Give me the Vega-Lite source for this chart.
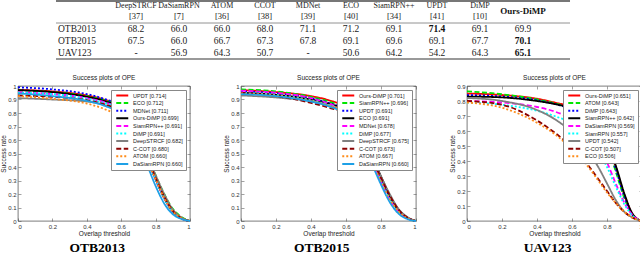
{
"$schema":"https://vega.github.io/schema/vega-lite/v6.json",
"padding":0,
"background":"white",
"spacing":14,
"datasets":{
"t":[
{"r":"OTB2013","c":"DeepSTRCF","v":68.2},{"r":"OTB2015","c":"DeepSTRCF","v":67.5},{"r":"UAV123","c":"DeepSTRCF","v":null},
{"r":"OTB2013","c":"DaSiamRPN","v":66.0},{"r":"OTB2015","c":"DaSiamRPN","v":66.0},{"r":"UAV123","c":"DaSiamRPN","v":56.9},
{"r":"OTB2013","c":"ATOM","v":66.0},{"r":"OTB2015","c":"ATOM","v":66.7},{"r":"UAV123","c":"ATOM","v":64.3},
{"r":"OTB2013","c":"CCOT","v":68.0},{"r":"OTB2015","c":"CCOT","v":67.3},{"r":"UAV123","c":"CCOT","v":50.7},
{"r":"OTB2013","c":"MDNet","v":71.1},{"r":"OTB2015","c":"MDNet","v":67.8},{"r":"UAV123","c":"MDNet","v":null},
{"r":"OTB2013","c":"ECO","v":71.2},{"r":"OTB2015","c":"ECO","v":69.1},{"r":"UAV123","c":"ECO","v":50.6},
{"r":"OTB2013","c":"SiamRPN++","v":69.1},{"r":"OTB2015","c":"SiamRPN++","v":69.6},{"r":"UAV123","c":"SiamRPN++","v":64.2},
{"r":"OTB2013","c":"UPDT","v":71.4},{"r":"OTB2015","c":"UPDT","v":69.1},{"r":"UAV123","c":"UPDT","v":54.2},
{"r":"OTB2013","c":"DiMP","v":69.1},{"r":"OTB2015","c":"DiMP","v":67.7},{"r":"UAV123","c":"DiMP","v":64.3},
{"r":"OTB2013","c":"Ours-DiMP","v":69.9},{"r":"OTB2015","c":"Ours-DiMP","v":70.1},{"r":"UAV123","c":"Ours-DiMP","v":65.1}
],
"h":[
{"c":"DeepSTRCF","a":"DeepSTRCF","b":"[37]"},{"c":"DaSiamRPN","a":"DaSiamRPN","b":"[7]"},{"c":"ATOM","a":"ATOM","b":"[36]"},
{"c":"CCOT","a":"CCOT","b":"[38]"},{"c":"MDNet","a":"MDNet","b":"[39]"},{"c":"ECO","a":"ECO","b":"[40]"},
{"c":"SiamRPN++","a":"SiamRPN++","b":"[34]"},{"c":"UPDT","a":"UPDT","b":"[41]"},{"c":"DiMP","a":"DiMP","b":"[10]"}
],
"c1":[
{"s":"UPDT [0.714]","x":0,"y":0.97},{"s":"UPDT [0.714]","x":0.2,"y":0.96},{"s":"UPDT [0.714]","x":0.4,"y":0.93},{"s":"UPDT [0.714]","x":0.5,"y":0.9},{"s":"UPDT [0.714]","x":0.6,"y":0.845},{"s":"UPDT [0.714]","x":0.65,"y":0.78},{"s":"UPDT [0.714]","x":0.7,"y":0.66},{"s":"UPDT [0.714]","x":0.75,"y":0.48},{"s":"UPDT [0.714]","x":0.8,"y":0.32},{"s":"UPDT [0.714]","x":0.85,"y":0.18},{"s":"UPDT [0.714]","x":0.9,"y":0.08},{"s":"UPDT [0.714]","x":0.95,"y":0.025},{"s":"UPDT [0.714]","x":1,"y":0},
{"s":"ECO [0.712]","x":0,"y":0.965},{"s":"ECO [0.712]","x":0.2,"y":0.955},{"s":"ECO [0.712]","x":0.4,"y":0.925},{"s":"ECO [0.712]","x":0.5,"y":0.895},{"s":"ECO [0.712]","x":0.6,"y":0.845},{"s":"ECO [0.712]","x":0.65,"y":0.785},{"s":"ECO [0.712]","x":0.7,"y":0.67},{"s":"ECO [0.712]","x":0.75,"y":0.5},{"s":"ECO [0.712]","x":0.8,"y":0.34},{"s":"ECO [0.712]","x":0.85,"y":0.2},{"s":"ECO [0.712]","x":0.9,"y":0.09},{"s":"ECO [0.712]","x":0.95,"y":0.03},{"s":"ECO [0.712]","x":1,"y":0},
{"s":"MDNet [0.711]","x":0,"y":0.99},{"s":"MDNet [0.711]","x":0.2,"y":0.975},{"s":"MDNet [0.711]","x":0.4,"y":0.94},{"s":"MDNet [0.711]","x":0.5,"y":0.905},{"s":"MDNet [0.711]","x":0.6,"y":0.85},{"s":"MDNet [0.711]","x":0.65,"y":0.775},{"s":"MDNet [0.711]","x":0.7,"y":0.65},{"s":"MDNet [0.711]","x":0.75,"y":0.47},{"s":"MDNet [0.711]","x":0.8,"y":0.31},{"s":"MDNet [0.711]","x":0.85,"y":0.17},{"s":"MDNet [0.711]","x":0.9,"y":0.07},{"s":"MDNet [0.711]","x":0.95,"y":0.02},{"s":"MDNet [0.711]","x":1,"y":0},
{"s":"Ours-DiMP [0.699]","x":0,"y":0.97},{"s":"Ours-DiMP [0.699]","x":0.2,"y":0.955},{"s":"Ours-DiMP [0.699]","x":0.4,"y":0.92},{"s":"Ours-DiMP [0.699]","x":0.5,"y":0.89},{"s":"Ours-DiMP [0.699]","x":0.6,"y":0.835},{"s":"Ours-DiMP [0.699]","x":0.65,"y":0.77},{"s":"Ours-DiMP [0.699]","x":0.7,"y":0.65},{"s":"Ours-DiMP [0.699]","x":0.75,"y":0.47},{"s":"Ours-DiMP [0.699]","x":0.8,"y":0.31},{"s":"Ours-DiMP [0.699]","x":0.85,"y":0.17},{"s":"Ours-DiMP [0.699]","x":0.9,"y":0.07},{"s":"Ours-DiMP [0.699]","x":0.95,"y":0.02},{"s":"Ours-DiMP [0.699]","x":1,"y":0},
{"s":"SiamRPN++ [0.691]","x":0,"y":0.955},{"s":"SiamRPN++ [0.691]","x":0.2,"y":0.94},{"s":"SiamRPN++ [0.691]","x":0.4,"y":0.91},{"s":"SiamRPN++ [0.691]","x":0.5,"y":0.88},{"s":"SiamRPN++ [0.691]","x":0.6,"y":0.825},{"s":"SiamRPN++ [0.691]","x":0.65,"y":0.76},{"s":"SiamRPN++ [0.691]","x":0.7,"y":0.64},{"s":"SiamRPN++ [0.691]","x":0.75,"y":0.46},{"s":"SiamRPN++ [0.691]","x":0.8,"y":0.31},{"s":"SiamRPN++ [0.691]","x":0.85,"y":0.17},{"s":"SiamRPN++ [0.691]","x":0.9,"y":0.07},{"s":"SiamRPN++ [0.691]","x":0.95,"y":0.02},{"s":"SiamRPN++ [0.691]","x":1,"y":0},
{"s":"DiMP [0.691]","x":0,"y":0.95},{"s":"DiMP [0.691]","x":0.2,"y":0.94},{"s":"DiMP [0.691]","x":0.4,"y":0.905},{"s":"DiMP [0.691]","x":0.5,"y":0.875},{"s":"DiMP [0.691]","x":0.6,"y":0.82},{"s":"DiMP [0.691]","x":0.65,"y":0.76},{"s":"DiMP [0.691]","x":0.7,"y":0.64},{"s":"DiMP [0.691]","x":0.75,"y":0.46},{"s":"DiMP [0.691]","x":0.8,"y":0.31},{"s":"DiMP [0.691]","x":0.85,"y":0.17},{"s":"DiMP [0.691]","x":0.9,"y":0.07},{"s":"DiMP [0.691]","x":0.95,"y":0.02},{"s":"DiMP [0.691]","x":1,"y":0},
{"s":"DeepSTRCF [0.682]","x":0,"y":0.91},{"s":"DeepSTRCF [0.682]","x":0.2,"y":0.9},{"s":"DeepSTRCF [0.682]","x":0.4,"y":0.885},{"s":"DeepSTRCF [0.682]","x":0.5,"y":0.86},{"s":"DeepSTRCF [0.682]","x":0.6,"y":0.805},{"s":"DeepSTRCF [0.682]","x":0.65,"y":0.745},{"s":"DeepSTRCF [0.682]","x":0.7,"y":0.65},{"s":"DeepSTRCF [0.682]","x":0.75,"y":0.49},{"s":"DeepSTRCF [0.682]","x":0.8,"y":0.34},{"s":"DeepSTRCF [0.682]","x":0.85,"y":0.2},{"s":"DeepSTRCF [0.682]","x":0.9,"y":0.085},{"s":"DeepSTRCF [0.682]","x":0.95,"y":0.025},{"s":"DeepSTRCF [0.682]","x":1,"y":0},
{"s":"C-COT [0.680]","x":0,"y":0.93},{"s":"C-COT [0.680]","x":0.2,"y":0.92},{"s":"C-COT [0.680]","x":0.4,"y":0.895},{"s":"C-COT [0.680]","x":0.5,"y":0.865},{"s":"C-COT [0.680]","x":0.6,"y":0.81},{"s":"C-COT [0.680]","x":0.65,"y":0.745},{"s":"C-COT [0.680]","x":0.7,"y":0.635},{"s":"C-COT [0.680]","x":0.75,"y":0.47},{"s":"C-COT [0.680]","x":0.8,"y":0.32},{"s":"C-COT [0.680]","x":0.85,"y":0.18},{"s":"C-COT [0.680]","x":0.9,"y":0.075},{"s":"C-COT [0.680]","x":0.95,"y":0.02},{"s":"C-COT [0.680]","x":1,"y":0},
{"s":"ATOM [0.660]","x":0,"y":0.925},{"s":"ATOM [0.660]","x":0.2,"y":0.905},{"s":"ATOM [0.660]","x":0.4,"y":0.87},{"s":"ATOM [0.660]","x":0.5,"y":0.83},{"s":"ATOM [0.660]","x":0.6,"y":0.765},{"s":"ATOM [0.660]","x":0.65,"y":0.7},{"s":"ATOM [0.660]","x":0.7,"y":0.6},{"s":"ATOM [0.660]","x":0.75,"y":0.45},{"s":"ATOM [0.660]","x":0.8,"y":0.31},{"s":"ATOM [0.660]","x":0.85,"y":0.17},{"s":"ATOM [0.660]","x":0.9,"y":0.07},{"s":"ATOM [0.660]","x":0.95,"y":0.02},{"s":"ATOM [0.660]","x":1,"y":0},
{"s":"DaSiamRPN [0.660]","x":0,"y":0.945},{"s":"DaSiamRPN [0.660]","x":0.2,"y":0.925},{"s":"DaSiamRPN [0.660]","x":0.4,"y":0.89},{"s":"DaSiamRPN [0.660]","x":0.5,"y":0.855},{"s":"DaSiamRPN [0.660]","x":0.6,"y":0.79},{"s":"DaSiamRPN [0.660]","x":0.65,"y":0.72},{"s":"DaSiamRPN [0.660]","x":0.7,"y":0.59},{"s":"DaSiamRPN [0.660]","x":0.75,"y":0.42},{"s":"DaSiamRPN [0.660]","x":0.8,"y":0.26},{"s":"DaSiamRPN [0.660]","x":0.85,"y":0.13},{"s":"DaSiamRPN [0.660]","x":0.9,"y":0.05},{"s":"DaSiamRPN [0.660]","x":0.95,"y":0.015},{"s":"DaSiamRPN [0.660]","x":1,"y":0}
],
"c2":[
{"s":"Ours-DiMP [0.701]","x":0,"y":0.97},{"s":"Ours-DiMP [0.701]","x":0.2,"y":0.955},{"s":"Ours-DiMP [0.701]","x":0.4,"y":0.925},{"s":"Ours-DiMP [0.701]","x":0.5,"y":0.895},{"s":"Ours-DiMP [0.701]","x":0.6,"y":0.84},{"s":"Ours-DiMP [0.701]","x":0.65,"y":0.77},{"s":"Ours-DiMP [0.701]","x":0.7,"y":0.65},{"s":"Ours-DiMP [0.701]","x":0.75,"y":0.48},{"s":"Ours-DiMP [0.701]","x":0.8,"y":0.32},{"s":"Ours-DiMP [0.701]","x":0.85,"y":0.18},{"s":"Ours-DiMP [0.701]","x":0.9,"y":0.08},{"s":"Ours-DiMP [0.701]","x":0.95,"y":0.025},{"s":"Ours-DiMP [0.701]","x":1,"y":0},
{"s":"SiamRPN++ [0.696]","x":0,"y":0.975},{"s":"SiamRPN++ [0.696]","x":0.2,"y":0.96},{"s":"SiamRPN++ [0.696]","x":0.4,"y":0.92},{"s":"SiamRPN++ [0.696]","x":0.5,"y":0.885},{"s":"SiamRPN++ [0.696]","x":0.6,"y":0.83},{"s":"SiamRPN++ [0.696]","x":0.65,"y":0.76},{"s":"SiamRPN++ [0.696]","x":0.7,"y":0.64},{"s":"SiamRPN++ [0.696]","x":0.75,"y":0.47},{"s":"SiamRPN++ [0.696]","x":0.8,"y":0.31},{"s":"SiamRPN++ [0.696]","x":0.85,"y":0.17},{"s":"SiamRPN++ [0.696]","x":0.9,"y":0.075},{"s":"SiamRPN++ [0.696]","x":0.95,"y":0.02},{"s":"SiamRPN++ [0.696]","x":1,"y":0},
{"s":"UPDT [0.691]","x":0,"y":0.96},{"s":"UPDT [0.691]","x":0.2,"y":0.945},{"s":"UPDT [0.691]","x":0.4,"y":0.91},{"s":"UPDT [0.691]","x":0.5,"y":0.875},{"s":"UPDT [0.691]","x":0.6,"y":0.82},{"s":"UPDT [0.691]","x":0.65,"y":0.76},{"s":"UPDT [0.691]","x":0.7,"y":0.64},{"s":"UPDT [0.691]","x":0.75,"y":0.47},{"s":"UPDT [0.691]","x":0.8,"y":0.32},{"s":"UPDT [0.691]","x":0.85,"y":0.18},{"s":"UPDT [0.691]","x":0.9,"y":0.08},{"s":"UPDT [0.691]","x":0.95,"y":0.025},{"s":"UPDT [0.691]","x":1,"y":0},
{"s":"ECO [0.691]","x":0,"y":0.95},{"s":"ECO [0.691]","x":0.2,"y":0.935},{"s":"ECO [0.691]","x":0.4,"y":0.9},{"s":"ECO [0.691]","x":0.5,"y":0.87},{"s":"ECO [0.691]","x":0.6,"y":0.82},{"s":"ECO [0.691]","x":0.65,"y":0.76},{"s":"ECO [0.691]","x":0.7,"y":0.65},{"s":"ECO [0.691]","x":0.75,"y":0.48},{"s":"ECO [0.691]","x":0.8,"y":0.33},{"s":"ECO [0.691]","x":0.85,"y":0.19},{"s":"ECO [0.691]","x":0.9,"y":0.085},{"s":"ECO [0.691]","x":0.95,"y":0.025},{"s":"ECO [0.691]","x":1,"y":0},
{"s":"MDNet [0.678]","x":0,"y":0.965},{"s":"MDNet [0.678]","x":0.2,"y":0.95},{"s":"MDNet [0.678]","x":0.4,"y":0.91},{"s":"MDNet [0.678]","x":0.5,"y":0.87},{"s":"MDNet [0.678]","x":0.6,"y":0.81},{"s":"MDNet [0.678]","x":0.65,"y":0.74},{"s":"MDNet [0.678]","x":0.7,"y":0.62},{"s":"MDNet [0.678]","x":0.75,"y":0.45},{"s":"MDNet [0.678]","x":0.8,"y":0.29},{"s":"MDNet [0.678]","x":0.85,"y":0.16},{"s":"MDNet [0.678]","x":0.9,"y":0.07},{"s":"MDNet [0.678]","x":0.95,"y":0.02},{"s":"MDNet [0.678]","x":1,"y":0},
{"s":"DiMP [0.677]","x":0,"y":0.95},{"s":"DiMP [0.677]","x":0.2,"y":0.935},{"s":"DiMP [0.677]","x":0.4,"y":0.895},{"s":"DiMP [0.677]","x":0.5,"y":0.86},{"s":"DiMP [0.677]","x":0.6,"y":0.8},{"s":"DiMP [0.677]","x":0.65,"y":0.74},{"s":"DiMP [0.677]","x":0.7,"y":0.62},{"s":"DiMP [0.677]","x":0.75,"y":0.45},{"s":"DiMP [0.677]","x":0.8,"y":0.3},{"s":"DiMP [0.677]","x":0.85,"y":0.17},{"s":"DiMP [0.677]","x":0.9,"y":0.07},{"s":"DiMP [0.677]","x":0.95,"y":0.02},{"s":"DiMP [0.677]","x":1,"y":0},
{"s":"DeepSTRCF [0.675]","x":0,"y":0.93},{"s":"DeepSTRCF [0.675]","x":0.2,"y":0.915},{"s":"DeepSTRCF [0.675]","x":0.4,"y":0.885},{"s":"DeepSTRCF [0.675]","x":0.5,"y":0.855},{"s":"DeepSTRCF [0.675]","x":0.6,"y":0.8},{"s":"DeepSTRCF [0.675]","x":0.65,"y":0.74},{"s":"DeepSTRCF [0.675]","x":0.7,"y":0.63},{"s":"DeepSTRCF [0.675]","x":0.75,"y":0.47},{"s":"DeepSTRCF [0.675]","x":0.8,"y":0.33},{"s":"DeepSTRCF [0.675]","x":0.85,"y":0.2},{"s":"DeepSTRCF [0.675]","x":0.9,"y":0.09},{"s":"DeepSTRCF [0.675]","x":0.95,"y":0.03},{"s":"DeepSTRCF [0.675]","x":1,"y":0},
{"s":"C-COT [0.673]","x":0,"y":0.95},{"s":"C-COT [0.673]","x":0.2,"y":0.925},{"s":"C-COT [0.673]","x":0.4,"y":0.875},{"s":"C-COT [0.673]","x":0.5,"y":0.84},{"s":"C-COT [0.673]","x":0.6,"y":0.79},{"s":"C-COT [0.673]","x":0.65,"y":0.73},{"s":"C-COT [0.673]","x":0.7,"y":0.62},{"s":"C-COT [0.673]","x":0.75,"y":0.46},{"s":"C-COT [0.673]","x":0.8,"y":0.32},{"s":"C-COT [0.673]","x":0.85,"y":0.19},{"s":"C-COT [0.673]","x":0.9,"y":0.085},{"s":"C-COT [0.673]","x":0.95,"y":0.025},{"s":"C-COT [0.673]","x":1,"y":0},
{"s":"ATOM [0.667]","x":0,"y":0.945},{"s":"ATOM [0.667]","x":0.2,"y":0.93},{"s":"ATOM [0.667]","x":0.4,"y":0.89},{"s":"ATOM [0.667]","x":0.5,"y":0.855},{"s":"ATOM [0.667]","x":0.6,"y":0.8},{"s":"ATOM [0.667]","x":0.65,"y":0.73},{"s":"ATOM [0.667]","x":0.7,"y":0.61},{"s":"ATOM [0.667]","x":0.75,"y":0.44},{"s":"ATOM [0.667]","x":0.8,"y":0.29},{"s":"ATOM [0.667]","x":0.85,"y":0.16},{"s":"ATOM [0.667]","x":0.9,"y":0.07},{"s":"ATOM [0.667]","x":0.95,"y":0.02},{"s":"ATOM [0.667]","x":1,"y":0},
{"s":"DaSiamRPN [0.660]","x":0,"y":0.94},{"s":"DaSiamRPN [0.660]","x":0.2,"y":0.925},{"s":"DaSiamRPN [0.660]","x":0.4,"y":0.885},{"s":"DaSiamRPN [0.660]","x":0.5,"y":0.85},{"s":"DaSiamRPN [0.660]","x":0.6,"y":0.79},{"s":"DaSiamRPN [0.660]","x":0.65,"y":0.72},{"s":"DaSiamRPN [0.660]","x":0.7,"y":0.59},{"s":"DaSiamRPN [0.660]","x":0.75,"y":0.42},{"s":"DaSiamRPN [0.660]","x":0.8,"y":0.27},{"s":"DaSiamRPN [0.660]","x":0.85,"y":0.14},{"s":"DaSiamRPN [0.660]","x":0.9,"y":0.055},{"s":"DaSiamRPN [0.660]","x":0.95,"y":0.015},{"s":"DaSiamRPN [0.660]","x":1,"y":0}
],
"c3":[
{"s":"Ours-DiMP [0.651]","x":0,"y":0.85},{"s":"Ours-DiMP [0.651]","x":0.2,"y":0.84},{"s":"Ours-DiMP [0.651]","x":0.4,"y":0.815},{"s":"Ours-DiMP [0.651]","x":0.5,"y":0.79},{"s":"Ours-DiMP [0.651]","x":0.6,"y":0.76},{"s":"Ours-DiMP [0.651]","x":0.65,"y":0.735},{"s":"Ours-DiMP [0.651]","x":0.7,"y":0.69},{"s":"Ours-DiMP [0.651]","x":0.75,"y":0.62},{"s":"Ours-DiMP [0.651]","x":0.8,"y":0.52},{"s":"Ours-DiMP [0.651]","x":0.85,"y":0.36},{"s":"Ours-DiMP [0.651]","x":0.9,"y":0.17},{"s":"Ours-DiMP [0.651]","x":0.95,"y":0.04},{"s":"Ours-DiMP [0.651]","x":1,"y":0},
{"s":"ATOM [0.643]","x":0,"y":0.865},{"s":"ATOM [0.643]","x":0.2,"y":0.845},{"s":"ATOM [0.643]","x":0.4,"y":0.81},{"s":"ATOM [0.643]","x":0.5,"y":0.785},{"s":"ATOM [0.643]","x":0.6,"y":0.75},{"s":"ATOM [0.643]","x":0.65,"y":0.72},{"s":"ATOM [0.643]","x":0.7,"y":0.675},{"s":"ATOM [0.643]","x":0.75,"y":0.6},{"s":"ATOM [0.643]","x":0.8,"y":0.5},{"s":"ATOM [0.643]","x":0.85,"y":0.33},{"s":"ATOM [0.643]","x":0.9,"y":0.15},{"s":"ATOM [0.643]","x":0.95,"y":0.035},{"s":"ATOM [0.643]","x":1,"y":0},
{"s":"DiMP [0.643]","x":0,"y":0.84},{"s":"DiMP [0.643]","x":0.2,"y":0.83},{"s":"DiMP [0.643]","x":0.4,"y":0.805},{"s":"DiMP [0.643]","x":0.5,"y":0.78},{"s":"DiMP [0.643]","x":0.6,"y":0.745},{"s":"DiMP [0.643]","x":0.65,"y":0.72},{"s":"DiMP [0.643]","x":0.7,"y":0.675},{"s":"DiMP [0.643]","x":0.75,"y":0.605},{"s":"DiMP [0.643]","x":0.8,"y":0.505},{"s":"DiMP [0.643]","x":0.85,"y":0.345},{"s":"DiMP [0.643]","x":0.9,"y":0.16},{"s":"DiMP [0.643]","x":0.95,"y":0.035},{"s":"DiMP [0.643]","x":1,"y":0},
{"s":"SiamRPN++ [0.642]","x":0,"y":0.83},{"s":"SiamRPN++ [0.642]","x":0.2,"y":0.824},{"s":"SiamRPN++ [0.642]","x":0.4,"y":0.8},{"s":"SiamRPN++ [0.642]","x":0.5,"y":0.78},{"s":"SiamRPN++ [0.642]","x":0.6,"y":0.75},{"s":"SiamRPN++ [0.642]","x":0.65,"y":0.725},{"s":"SiamRPN++ [0.642]","x":0.7,"y":0.68},{"s":"SiamRPN++ [0.642]","x":0.75,"y":0.615},{"s":"SiamRPN++ [0.642]","x":0.8,"y":0.52},{"s":"SiamRPN++ [0.642]","x":0.85,"y":0.37},{"s":"SiamRPN++ [0.642]","x":0.9,"y":0.18},{"s":"SiamRPN++ [0.642]","x":0.95,"y":0.04},{"s":"SiamRPN++ [0.642]","x":1,"y":0},
{"s":"DaSiamRPN [0.569]","x":0,"y":0.8},{"s":"DaSiamRPN [0.569]","x":0.2,"y":0.79},{"s":"DaSiamRPN [0.569]","x":0.4,"y":0.76},{"s":"DaSiamRPN [0.569]","x":0.5,"y":0.73},{"s":"DaSiamRPN [0.569]","x":0.6,"y":0.68},{"s":"DaSiamRPN [0.569]","x":0.65,"y":0.64},{"s":"DaSiamRPN [0.569]","x":0.7,"y":0.58},{"s":"DaSiamRPN [0.569]","x":0.75,"y":0.5},{"s":"DaSiamRPN [0.569]","x":0.8,"y":0.39},{"s":"DaSiamRPN [0.569]","x":0.85,"y":0.25},{"s":"DaSiamRPN [0.569]","x":0.9,"y":0.12},{"s":"DaSiamRPN [0.569]","x":0.95,"y":0.035},{"s":"DaSiamRPN [0.569]","x":1,"y":0},
{"s":"SiamRPN [0.557]","x":0,"y":0.79},{"s":"SiamRPN [0.557]","x":0.2,"y":0.775},{"s":"SiamRPN [0.557]","x":0.4,"y":0.735},{"s":"SiamRPN [0.557]","x":0.5,"y":0.7},{"s":"SiamRPN [0.557]","x":0.6,"y":0.65},{"s":"SiamRPN [0.557]","x":0.65,"y":0.61},{"s":"SiamRPN [0.557]","x":0.7,"y":0.55},{"s":"SiamRPN [0.557]","x":0.75,"y":0.47},{"s":"SiamRPN [0.557]","x":0.8,"y":0.36},{"s":"SiamRPN [0.557]","x":0.85,"y":0.23},{"s":"SiamRPN [0.557]","x":0.9,"y":0.11},{"s":"SiamRPN [0.557]","x":0.95,"y":0.03},{"s":"SiamRPN [0.557]","x":1,"y":0},
{"s":"UPDT [0.542]","x":0,"y":0.82},{"s":"UPDT [0.542]","x":0.2,"y":0.8},{"s":"UPDT [0.542]","x":0.4,"y":0.74},{"s":"UPDT [0.542]","x":0.5,"y":0.68},{"s":"UPDT [0.542]","x":0.6,"y":0.59},{"s":"UPDT [0.542]","x":0.65,"y":0.53},{"s":"UPDT [0.542]","x":0.7,"y":0.45},{"s":"UPDT [0.542]","x":0.75,"y":0.36},{"s":"UPDT [0.542]","x":0.8,"y":0.25},{"s":"UPDT [0.542]","x":0.85,"y":0.14},{"s":"UPDT [0.542]","x":0.9,"y":0.06},{"s":"UPDT [0.542]","x":0.95,"y":0.02},{"s":"UPDT [0.542]","x":1,"y":0},
{"s":"C-COT [0.507]","x":0,"y":0.8},{"s":"C-COT [0.507]","x":0.2,"y":0.775},{"s":"C-COT [0.507]","x":0.4,"y":0.67},{"s":"C-COT [0.507]","x":0.5,"y":0.59},{"s":"C-COT [0.507]","x":0.6,"y":0.49},{"s":"C-COT [0.507]","x":0.65,"y":0.43},{"s":"C-COT [0.507]","x":0.7,"y":0.36},{"s":"C-COT [0.507]","x":0.75,"y":0.28},{"s":"C-COT [0.507]","x":0.8,"y":0.2},{"s":"C-COT [0.507]","x":0.85,"y":0.12},{"s":"C-COT [0.507]","x":0.9,"y":0.06},{"s":"C-COT [0.507]","x":0.95,"y":0.02},{"s":"C-COT [0.507]","x":1,"y":0},
{"s":"ECO [0.506]","x":0,"y":0.79},{"s":"ECO [0.506]","x":0.2,"y":0.755},{"s":"ECO [0.506]","x":0.4,"y":0.655},{"s":"ECO [0.506]","x":0.5,"y":0.58},{"s":"ECO [0.506]","x":0.6,"y":0.48},{"s":"ECO [0.506]","x":0.65,"y":0.42},{"s":"ECO [0.506]","x":0.7,"y":0.35},{"s":"ECO [0.506]","x":0.75,"y":0.27},{"s":"ECO [0.506]","x":0.8,"y":0.19},{"s":"ECO [0.506]","x":0.85,"y":0.12},{"s":"ECO [0.506]","x":0.9,"y":0.06},{"s":"ECO [0.506]","x":0.95,"y":0.02},{"s":"ECO [0.506]","x":1,"y":0}
]
},
"vconcat":[
{
"width":580,"height":58,
"view":{"stroke":null},
"layer":[
{"data":{"values":[{}]},"mark":{"type":"rule","strokeWidth":2,"color":"#777","yOffset":-4,"xOffset":6,"x2Offset":4},
 "encoding":{"x":{"datum":"lbl","type":"ordinal","scale":{"type":"point","domain":["lbl","gap","DeepSTRCF","DaSiamRPN","ATOM","CCOT","MDNet","ECO","SiamRPN++","UPDT","DiMP","Ours-DiMP","end"],"padding":0.744},"axis":null},"x2":{"datum":"end"},
 "y":{"datum":"h1","type":"ordinal","scale":{"type":"point","domain":["h1","h2","OTB2013","OTB2015","UAV123"],"padding":0.417},"axis":null}}},
{"data":{"values":[{}]},"mark":{"type":"rule","strokeWidth":0.8,"color":"#777","yOffset":-6,"xOffset":6,"x2Offset":4},
 "encoding":{"x":{"datum":"lbl","type":"ordinal"},"x2":{"datum":"end"},"y":{"datum":"OTB2013","type":"ordinal"}}},
{"data":{"values":[{}]},"mark":{"type":"rule","strokeWidth":1.5,"color":"#777","yOffset":6,"xOffset":6,"x2Offset":4},
 "encoding":{"x":{"datum":"lbl","type":"ordinal"},"x2":{"datum":"end"},"y":{"datum":"UAV123","type":"ordinal"}}},
{"data":{"name":"h"},"mark":{"type":"text","font":"Liberation Serif","fontSize":8,"color":"#222","yOffset":1},
 "encoding":{"x":{"field":"c","type":"ordinal"},"y":{"datum":"h1","type":"ordinal"},"text":{"field":"a"}}},
{"data":{"name":"h"},"mark":{"type":"text","font":"Liberation Serif","fontSize":8.5,"color":"#222","yOffset":-1},
 "encoding":{"x":{"field":"c","type":"ordinal"},"y":{"datum":"h2","type":"ordinal"},"text":{"field":"b"}}},
{"data":{"values":[{"c":"Ours-DiMP"}]},"mark":{"type":"text","font":"Liberation Serif","fontSize":9,"fontWeight":"bold","color":"#111","yOffset":6},
 "encoding":{"x":{"field":"c","type":"ordinal"},"y":{"datum":"h1","type":"ordinal"},"text":{"field":"c"}}},
{"data":{"values":[{"r":"OTB2013"},{"r":"OTB2015"},{"r":"UAV123"}]},"mark":{"type":"text","font":"Liberation Serif","fontSize":9.5,"color":"#222","align":"left","xOffset":8},
 "encoding":{"x":{"datum":"lbl","type":"ordinal"},"y":{"field":"r","type":"ordinal"},"text":{"field":"r"}}},
{"data":{"name":"t"},"transform":[{"filter":"datum.v != null"},{"joinaggregate":[{"op":"max","field":"v","as":"m"}],"groupby":["r"]},{"filter":"datum.v < datum.m"}],
 "mark":{"type":"text","font":"Liberation Serif","fontSize":9.5,"color":"#222"},
 "encoding":{"x":{"field":"c","type":"ordinal"},"y":{"field":"r","type":"ordinal"},"text":{"field":"v","type":"quantitative","format":".1f"}}},
{"data":{"name":"t"},"transform":[{"filter":"datum.v != null"},{"joinaggregate":[{"op":"max","field":"v","as":"m"}],"groupby":["r"]},{"filter":"datum.v == datum.m"}],
 "mark":{"type":"text","font":"Liberation Serif","fontSize":9.5,"fontWeight":"bold","color":"#111"},
 "encoding":{"x":{"field":"c","type":"ordinal"},"y":{"field":"r","type":"ordinal"},"text":{"field":"v","type":"quantitative","format":".1f"}}},
{"data":{"name":"t"},"transform":[{"filter":"datum.v == null"}],
 "mark":{"type":"text","font":"Liberation Serif","fontSize":9.5,"color":"#222","text":"-"},
 "encoding":{"x":{"field":"c","type":"ordinal"},"y":{"field":"r","type":"ordinal"}}}
]
},
{
"hconcat":[
{"title":{"text":"OTB2013","orient":"bottom","anchor":"middle","font":"Liberation Serif","fontSize":13.5,"fontWeight":"bold","color":"#000","offset":4},
 "resolve":{"scale":{"color":"independent","strokeDash":"independent"},"legend":{"color":"independent","strokeDash":"independent"}},
 "vconcat":[
 {"width":172,"height":135,"title":"Success plots of OPE","data":{"name":"c1"},
  "layer":[
   {"mark":{"type":"line","strokeWidth":1.8,"interpolate":"monotone"},
    "encoding":{
     "x":{"field":"x","type":"quantitative","scale":{"domain":[0,1]},"axis":{"values":[0,0.2,0.4,0.6,0.8,1],"format":"~g","title":"Overlap threshold"}},
     "y":{"field":"y","type":"quantitative","scale":{"domain":[0,1]},"axis":{"values":[0,0.1,0.2,0.3,0.4,0.5,0.6,0.7,0.8,0.9,1],"format":"~g","title":"Success rate"}},
     "color":{"field":"s","type":"nominal","sort":null,"scale":{"domain":["UPDT [0.714]","ECO [0.712]","MDNet [0.711]","Ours-DiMP [0.699]","SiamRPN++ [0.691]","DiMP [0.691]","DeepSTRCF [0.682]","C-COT [0.680]","ATOM [0.660]","DaSiamRPN [0.660]"],"range":["#ff0000","#00e600","#0000ff","#000000","#ff00ff","#00ffff","#808080","#8b0000","#ff8c1a","#1ea0e6"]},
      "legend":{"orient":"top-right","offset":4,"symbolSize":9,"rowPadding":0.6,"padding":2.5,"clipHeight":6}},
     "strokeDash":{"field":"s","type":"nominal","sort":null,"scale":{"domain":["UPDT [0.714]","ECO [0.712]","MDNet [0.711]","Ours-DiMP [0.699]","SiamRPN++ [0.691]","DiMP [0.691]","DeepSTRCF [0.682]","C-COT [0.680]","ATOM [0.660]","DaSiamRPN [0.660]"],"range":[[1,0],[5,2.5],[2,2],[1,0],[5,2.5],[2,2],[1,0],[5,2.5],[2,2],[1,0]]},
      "legend":{"orient":"top-right","offset":4,"symbolSize":9,"rowPadding":0.6,"padding":2.5,"clipHeight":6}}
    }},
   {"mark":{"type":"point","opacity":0},
    "encoding":{"x":{"field":"x","type":"quantitative","axis":{"orient":"top","values":[0,0.2,0.4,0.6,0.8,1],"labels":false,"title":null,"labelPadding":0}},
     "y":{"field":"y","type":"quantitative","axis":{"orient":"right","values":[0,0.1,0.2,0.3,0.4,0.5,0.6,0.7,0.8,0.9,1],"labels":false,"title":null,"labelPadding":0}}}}
  ],
  "resolve":{"axis":{"x":"independent","y":"independent"}}}
 ]},
{"title":{"text":"OTB2015","orient":"bottom","anchor":"middle","font":"Liberation Serif","fontSize":13.5,"fontWeight":"bold","color":"#000","offset":4},
 "resolve":{"scale":{"color":"independent","strokeDash":"independent"},"legend":{"color":"independent","strokeDash":"independent"}},
 "vconcat":[
 {"width":175,"height":135,"title":"Success plots of OPE","data":{"name":"c2"},
  "layer":[
   {"mark":{"type":"line","strokeWidth":1.8,"interpolate":"monotone"},
    "encoding":{
     "x":{"field":"x","type":"quantitative","scale":{"domain":[0,1]},"axis":{"values":[0,0.2,0.4,0.6,0.8,1],"format":"~g","title":"Overlap threshold"}},
     "y":{"field":"y","type":"quantitative","scale":{"domain":[0,1]},"axis":{"values":[0,0.1,0.2,0.3,0.4,0.5,0.6,0.7,0.8,0.9,1],"format":"~g","title":"Success rate"}},
     "color":{"field":"s","type":"nominal","sort":null,"scale":{"domain":["Ours-DiMP [0.701]","SiamRPN++ [0.696]","UPDT [0.691]","ECO [0.691]","MDNet [0.678]","DiMP [0.677]","DeepSTRCF [0.675]","C-COT [0.673]","ATOM [0.667]","DaSiamRPN [0.660]"],"range":["#ff0000","#00e600","#0000ff","#000000","#ff00ff","#00ffff","#808080","#8b0000","#ff8c1a","#1ea0e6"]},
      "legend":{"orient":"top-right","offset":4,"symbolSize":9,"rowPadding":0.6,"padding":2.5,"clipHeight":6}},
     "strokeDash":{"field":"s","type":"nominal","sort":null,"scale":{"domain":["Ours-DiMP [0.701]","SiamRPN++ [0.696]","UPDT [0.691]","ECO [0.691]","MDNet [0.678]","DiMP [0.677]","DeepSTRCF [0.675]","C-COT [0.673]","ATOM [0.667]","DaSiamRPN [0.660]"],"range":[[1,0],[5,2.5],[2,2],[1,0],[5,2.5],[2,2],[1,0],[5,2.5],[2,2],[1,0]]},
      "legend":{"orient":"top-right","offset":4,"symbolSize":9,"rowPadding":0.6,"padding":2.5,"clipHeight":6}}
    }},
   {"mark":{"type":"point","opacity":0},
    "encoding":{"x":{"field":"x","type":"quantitative","axis":{"orient":"top","values":[0,0.2,0.4,0.6,0.8,1],"labels":false,"title":null,"labelPadding":0}},
     "y":{"field":"y","type":"quantitative","axis":{"orient":"right","values":[0,0.1,0.2,0.3,0.4,0.5,0.6,0.7,0.8,0.9,1],"labels":false,"title":null,"labelPadding":0}}}}
  ],
  "resolve":{"axis":{"x":"independent","y":"independent"}}}
 ]},
{"title":{"text":"UAV123","orient":"bottom","anchor":"middle","font":"Liberation Serif","fontSize":13.5,"fontWeight":"bold","color":"#000","offset":4},
 "resolve":{"scale":{"color":"independent","strokeDash":"independent"},"legend":{"color":"independent","strokeDash":"independent"}},
 "vconcat":[
 {"width":175,"height":135,"title":"Success plots of OPE","data":{"name":"c3"},
  "layer":[
   {"mark":{"type":"line","strokeWidth":1.8,"interpolate":"monotone"},
    "encoding":{
     "x":{"field":"x","type":"quantitative","scale":{"domain":[0,1]},"axis":{"values":[0,0.2,0.4,0.6,0.8,1],"format":"~g","title":"Overlap threshold"}},
     "y":{"field":"y","type":"quantitative","scale":{"domain":[0,0.9]},"axis":{"values":[0,0.1,0.2,0.3,0.4,0.5,0.6,0.7,0.8,0.9],"format":"~g","title":"Success rate"}},
     "color":{"field":"s","type":"nominal","sort":null,"scale":{"domain":["Ours-DiMP [0.651]","ATOM [0.643]","DiMP [0.643]","SiamRPN++ [0.642]","DaSiamRPN [0.569]","SiamRPN [0.557]","UPDT [0.542]","C-COT [0.507]","ECO [0.506]"],"range":["#ff0000","#00e600","#0000ff","#000000","#ff00ff","#00ffff","#808080","#8b0000","#ff8c1a"]},
      "legend":{"orient":"top-right","offset":4,"symbolSize":9,"rowPadding":0.6,"padding":2.5,"clipHeight":6}},
     "strokeDash":{"field":"s","type":"nominal","sort":null,"scale":{"domain":["Ours-DiMP [0.651]","ATOM [0.643]","DiMP [0.643]","SiamRPN++ [0.642]","DaSiamRPN [0.569]","SiamRPN [0.557]","UPDT [0.542]","C-COT [0.507]","ECO [0.506]"],"range":[[1,0],[5,2.5],[2,2],[1,0],[5,2.5],[2,2],[1,0],[5,2.5],[2,2]]},
      "legend":{"orient":"top-right","offset":4,"symbolSize":9,"rowPadding":0.6,"padding":2.5,"clipHeight":6}}
    }},
   {"mark":{"type":"point","opacity":0},
    "encoding":{"x":{"field":"x","type":"quantitative","axis":{"orient":"top","values":[0,0.2,0.4,0.6,0.8,1],"labels":false,"title":null,"labelPadding":0}},
     "y":{"field":"y","type":"quantitative","axis":{"orient":"right","values":[0,0.1,0.2,0.3,0.4,0.5,0.6,0.7,0.8,0.9],"labels":false,"title":null,"labelPadding":0}}}}
  ],
  "resolve":{"axis":{"x":"independent","y":"independent"}}}
 ]}
],
"spacing":29,
"resolve":{"scale":{"color":"independent","strokeDash":"independent"},"legend":{"color":"independent","strokeDash":"independent"}}
}
],
"resolve":{"scale":{"color":"independent","strokeDash":"independent"},"legend":{"color":"independent","strokeDash":"independent"}},
"config":{
"view":{"stroke":"#222","strokeWidth":0.6},
"title":{"fontSize":6.5,"fontWeight":"normal","font":"Liberation Sans","offset":2,"color":"#222"},
"axis":{"labelFontSize":6,"labelFont":"Liberation Sans","labelColor":"#333","titleFontSize":6.5,"titleFont":"Liberation Sans","titleFontWeight":"normal","titleColor":"#222","tickSize":-3,"tickColor":"#444","tickWidth":0.5,"labelPadding":5,"titlePadding":1,"grid":false,"domain":false},
"legend":{"title":null,"fillColor":"white","strokeColor":"#888","labelFontSize":5.5,"labelFont":"Liberation Sans","labelColor":"#222","symbolType":"M-4,0H4","symbolStrokeWidth":2,"symbolOffset":6,"labelOffset":8,"labelLimit":100}
}
}
